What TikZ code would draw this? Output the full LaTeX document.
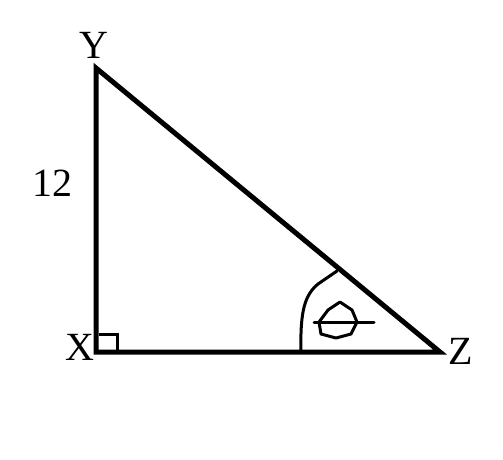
\documentclass[tikz,border=0pt]{standalone}
\usepackage{fontspec}
\setmainfont{Liberation Serif}
\begin{document}
\begin{tikzpicture}[x=1pt,y=-1pt,
  side/.style={line width=5pt,line join=miter},
  thin/.style={line width=3pt,line cap=round,line join=round},
  lbl/.style={font=\fontsize{40}{40}\selectfont,inner sep=0pt}]
\useasboundingbox (0,0) rectangle (503,459);
\coordinate (X) at (96,352);
\coordinate (Y) at (96,68);
\coordinate (Z) at (440,352);
\draw[side] (Y) -- (X) -- (Z) -- cycle;
\node[lbl] (ly) at (94,45) {Y};
\node[lbl] (lx) at (80,347) {X};
\node[lbl] (lz) at (461,351) {Z};
\node[lbl] (l12) at (52,183) {12};
% right angle mark
\draw[line width=3pt] (99,334.5) -- (117,334.5) -- (117,352);
% angle arc
\coordinate (a1) at (301,352);
\coordinate (a2) at (337,271);
\draw[thin] (a1) .. controls (300,310) and (305,295) .. (318,284) -- (a2);
% theta
\draw[thin] (340,302) -- (352,310) -- (357,322) -- (351,334) -- (336,338) -- (321,334) -- (319,322) -- (328,310) -- cycle;
\draw[thin] (314,322) -- (374,322);
\end{tikzpicture}
\end{document}
